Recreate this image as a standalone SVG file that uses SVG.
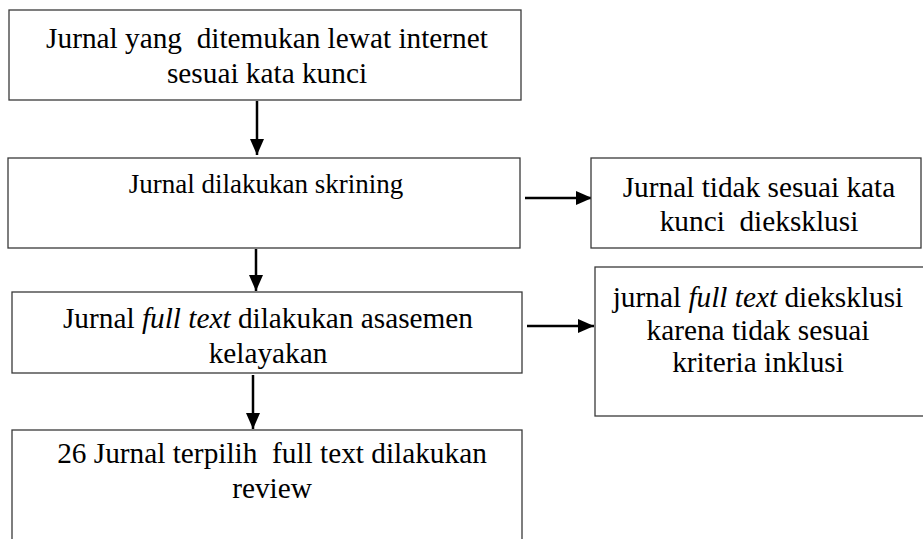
<svg xmlns="http://www.w3.org/2000/svg" width="923" height="539" viewBox="0 0 923 539">
  <style>
    .box { fill: #ffffff; stroke: #3a3a3a; stroke-width: 1.3; }
    .t { font-family: "Liberation Serif", "Times New Roman", serif; font-size: 29.3px; fill: #000; text-anchor: middle; white-space: pre; }
    .t2 { font-size: 27px; }
    .it { font-style: italic; }
    .conn { stroke: #000; stroke-width: 2.5; fill: none; marker-end: url(#ah); }
  </style>
  <defs>
    <marker id="ah" markerUnits="userSpaceOnUse" markerWidth="16" markerHeight="14" refX="16" refY="7" orient="auto">
      <path d="M0,0 L16,7 L0,14 Z" fill="#000"/>
    </marker>
    <clipPath id="c3"><rect x="12" y="292" width="510" height="80"/></clipPath>
  </defs>
  <rect width="923" height="539" fill="#ffffff"/>

  <g id="connectors">
    <line class="conn" x1="257" y1="101" x2="257" y2="155"/>
    <line class="conn" x1="525" y1="198" x2="592" y2="198"/>
    <line class="conn" x1="256" y1="249" x2="256" y2="291"/>
    <line class="conn" x1="527" y1="326" x2="594" y2="326"/>
    <line class="conn" x1="253" y1="375" x2="253" y2="429"/>
  </g>

  <g id="n1">
    <rect class="box" x="9" y="10" width="512" height="90"/>
    <text class="t" x="267" y="48" xml:space="preserve">Jurnal yang  ditemukan lewat internet</text>
    <text class="t" x="267" y="83">sesuai kata kunci</text>
  </g>

  <g id="n2">
    <rect class="box" x="8" y="158" width="512" height="90"/>
    <text class="t t2" x="266" y="193">Jurnal dilakukan skrining</text>
  </g>

  <g id="n3">
    <rect class="box" x="591" y="158" width="330" height="90"/>
    <text class="t" x="759" y="197">Jurnal tidak sesuai kata</text>
    <text class="t" x="759" y="231" xml:space="preserve">kunci  dieksklusi</text>
  </g>

  <g id="n4">
    <rect class="box" x="12" y="292" width="510" height="81"/>
    <text class="t" x="268" y="328">Jurnal <tspan class="it">full text</tspan> dilakukan asasemen</text>
    <text class="t" x="268" y="363" clip-path="url(#c3)">kelayakan</text>
  </g>

  <g id="n5">
    <rect class="box" x="595" y="267" width="340" height="149"/>
    <text class="t" x="758" y="307">jurnal <tspan class="it">full text</tspan> dieksklusi</text>
    <text class="t" x="758" y="340">karena tidak sesuai</text>
    <text class="t" x="758" y="372">kriteria inklusi</text>
  </g>

  <g id="n6">
    <rect class="box" x="12" y="430" width="510" height="130"/>
    <text class="t" x="272" y="463" xml:space="preserve">26 Jurnal terpilih  full text dilakukan</text>
    <text class="t" x="272" y="498">review</text>
  </g>
</svg>
